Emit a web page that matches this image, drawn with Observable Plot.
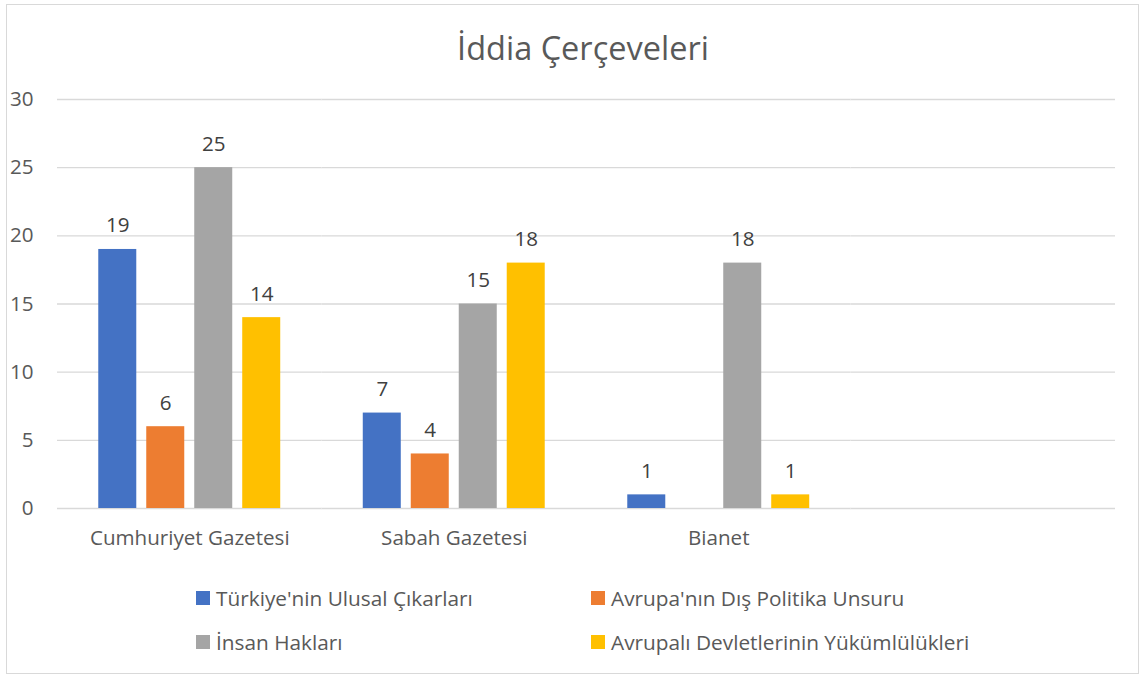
<!DOCTYPE html>
<html>
<head>
<meta charset="utf-8">
<script src="https://cdn.jsdelivr.net/npm/d3@7"></script>
<script src="https://cdn.jsdelivr.net/npm/@observablehq/plot@0.6"></script>
<style>
  html, body { margin: 0; padding: 0; background: #fff; }
  #wrap { position: relative; width: 1148px; height: 677px; overflow: hidden; font-family: "Open Sans", sans-serif; color: #595959; }
  #border { position: absolute; left: 6px; top: 4px; width: 1133px; height: 670px; border: 1px solid #d9d9d9; box-sizing: border-box; }
  #title { position: absolute; left: 0; width: 1166px; top: 25px; text-align: center; font-size: 32.5px; color: #595959; }
  #chart { position: absolute; left: 0; top: 0; }
  .leg { position: absolute; font-size: 20.8px; color: #595959; display: flex; align-items: center; white-space: nowrap; }
  .sw { width: 14px; height: 14px; margin-right: 6px; flex: none; }
</style>
</head>
<body>
<div id="wrap">
  <div id="border"></div>
  <div id="chart"></div>
  <div id="title">İddia Çerçeveleri</div>
  <div id="legend"></div>
</div>
<script>
const categories = ["Cumhuriyet Gazetesi", "Sabah Gazetesi", "Bianet", " "];
const seriesNames = ["Türkiye'nin Ulusal Çıkarları", "Avrupa'nın Dış Politika Unsuru", "İnsan Hakları", "Avrupalı Devletlerinin Yükümlülükleri"];
const seriesColors = ["#4472C4", "#ED7D31", "#A5A5A5", "#FFC000"];
const turkiyeUlusal = [19, 7, 1, null];
const avrupaDisPolitika = [6, 4, null, null];
const insanHaklari = [25, 15, 18, null];
const avrupaliYukumluluk = [14, 18, 1, null];
const yTicks = [0, 5, 10, 15, 20, 25, 30];

const seriesValues = [turkiyeUlusal, avrupaDisPolitika, insanHaklari, avrupaliYukumluluk];
const data = [];
categories.forEach((c, ci) => {
  seriesNames.forEach((s, si) => {
    data.push({category: c, series: s, value: seriesValues[si][ci]});
  });
});

const chart = Plot.plot({
  width: 1148,
  height: 560,
  marginLeft: 57,
  marginRight: 33,
  marginTop: 99,
  marginBottom: 52,
  style: {fontFamily: "Open Sans, sans-serif", fontSize: "20.6px", color: "#595959", background: "transparent"},
  fx: {domain: categories, paddingInner: 0, paddingOuter: 0, round: false, axis: "bottom", tickSize: 0, tickPadding: 22, label: null},
  x: {domain: seriesNames, paddingInner: 0.208, paddingOuter: 0.86, round: false, axis: null},
  y: {domain: [0, 30], ticks: yTicks, axis: "left", tickSize: 0, tickPadding: 24, label: null},
  color: {domain: seriesNames, range: seriesColors},
  marks: [
    Plot.ruleY(yTicks, {stroke: "#d9d9d9", strokeWidth: 1.3}),
    Plot.barY(data, {fx: "category", x: "series", y: "value", fill: "series"}),
    Plot.text(data, {fx: "category", x: "series", y: "value", text: d => d.value == null ? null : String(d.value), dy: -17, lineAnchor: "bottom", fill: "#404040", fontSize: 20.6})
  ]
});
document.getElementById("chart").appendChild(chart);

const legendPos = [
  {left: 196, top: 598}, {left: 591, top: 598},
  {left: 196, top: 642}, {left: 591, top: 642}
];
const legend = document.getElementById("legend");
seriesNames.forEach((s, i) => {
  const el = document.createElement("div");
  el.className = "leg";
  el.style.left = legendPos[i].left + "px";
  el.style.top = (legendPos[i].top - 14) + "px";
  el.style.height = "28px";
  const sw = document.createElement("span");
  sw.className = "sw";
  sw.style.background = seriesColors[i];
  const tx = document.createElement("span");
  tx.textContent = s;
  el.appendChild(sw);
  el.appendChild(tx);
  legend.appendChild(el);
});
</script>
</body>
</html>
